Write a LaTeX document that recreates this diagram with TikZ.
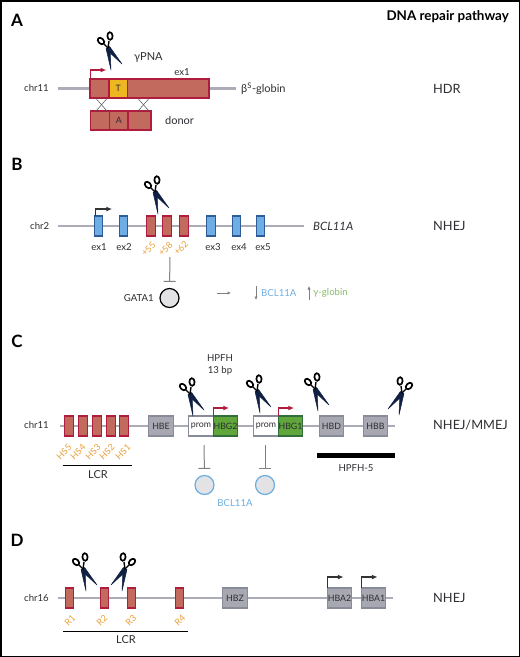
\documentclass[tikz,border=0pt]{standalone}
\usepackage{fontspec}
\setmainfont{Lato}
\usetikzlibrary{positioning, arrows.meta}
\definecolor{chrom}{RGB}{172, 172, 184}
\definecolor{crim}{RGB}{176, 28, 62}
\definecolor{brick}{RGB}{194, 106, 94}
\definecolor{gold}{RGB}{238, 182, 32}
\definecolor{exon}{RGB}{110, 174, 228}
\definecolor{exonline}{RGB}{45, 92, 150}
\definecolor{hbgrey}{RGB}{168, 168, 178}
\definecolor{hbline}{RGB}{136, 140, 152}
\definecolor{hbgreen}{RGB}{96, 166, 58}
\definecolor{hbgreenline}{RGB}{50, 110, 60}
\definecolor{site}{RGB}{232, 160, 60}
\definecolor{tf}{RGB}{227, 227, 230}
\definecolor{tfblue}{RGB}{106, 174, 224}
\definecolor{txtgreen}{RGB}{130, 190, 100}
\definecolor{txt}{RGB}{45, 45, 50}
\definecolor{navy}{RGB}{16, 32, 66}

\begin{document}
\begin{tikzpicture}[
    x=1pt, y=-1pt,
    lbl/.style={text=txt, font=\fontsize{9.6}{11}\selectfont, inner sep=0pt},
    mid_lbl/.style={text=txt, font=\fontsize{11}{13}\selectfont, inner sep=0pt},
    big_lbl/.style={text=txt, font=\fontsize{12.8}{14}\selectfont, inner sep=0pt},
    panel/.style={text=black, font=\fontsize{17}{18}\selectfont\bfseries, inner sep=0pt},
    tilt/.style={text=site, font=\fontsize{9}{10}\selectfont, inner sep=0pt, rotate=45},
    chrom_line/.style={chrom, line width=2.6pt},
    box/.style={
        draw, 
        line width=1.2pt,
        inner sep=0pt,
        outer sep=0pt,
        text=txt,
        font=\fontsize{8.8}{10}\selectfont,
        node distance=0pt
    },
    red_box/.style={box, draw=crim, fill=brick},
    exon_box/.style={box, draw=exonline, fill=exon, minimum width=8.5pt, minimum height=20pt},
    hs_box/.style={red_box, minimum width=8.5pt, minimum height=20pt},
    gene_box/.style={box, draw=hbline, fill=hbgrey, minimum width=24.5pt, minimum height=20pt},
    prom_box/.style={box, draw=hbline, fill=white, minimum width=24.5pt, minimum height=20pt},
    hbg_box/.style={box, draw=hbgreenline, fill=hbgreen, minimum width=24.5pt, minimum height=20pt},
    tf_dot/.style={circle, fill=tf, minimum size=19pt, inner sep=0pt, draw=black, line width=1.2pt},
    tfb_dot/.style={tf_dot, draw=tfblue},
    inhibit/.style={-{Bar[width=12pt,length=1pt]}, draw=gray, line width=1pt, shorten >=6pt},
    tss_red/.style={-{Latex[length=6pt,width=5pt]}, crim, line width=1.3pt},
    tss_black/.style={-{Latex[length=6pt,width=5pt]}, black!80, line width=1.3pt},
    small_arrow/.style={-{Latex[length=3.5pt,width=3.5pt]}, gray, line width=0.8pt},
    scissors/.pic={
        \filldraw[navy, line width=0.5pt, line join=round] (-1.6,1.5) -- (14,16) -- (1.6,-1.5) -- cycle;
        \filldraw[navy, line width=0.5pt, line join=round] (-2,0.3) -- (3,22) -- (2,-0.3) -- cycle;
        \draw[black, line width=1.4pt] (0,0) -- (-4,-4);
        \draw[black, line width=1.4pt] (0,0) -- (1,-7);
        \draw[black, line width=1.7pt, rotate around={45:(-7,-7)}] (-7,-7) ellipse (2.6 and 3.8);
        \draw[black, line width=1.7pt, rotate around={5:(2,-12)}] (2,-12) ellipse (2.6 and 3.8);
    }
]

% frame
\draw[black, line width=1.5pt] (0.75,0.75) rectangle (519.25,656.25);
\node[panel, text=black, font=\fontsize{13.4}{15}\selectfont\bfseries, anchor=east] (pathway) at (509,17) {DNA repair pathway};

% panel A
\node[panel] (labA) at (17,20) {A};
\node[lbl, anchor=west] (chrA) at (24,88) {chr11};
\coordinate (a_l) at (58,88.5);
\coordinate (a_r) at (236,88.5);
\draw[chrom_line] (a_l) -- (a_r);
\node[red_box, minimum width=119pt, minimum height=19pt, anchor=north west] (ex1) at (90,79) {};
\node[box, draw=crim, fill=gold, minimum width=18.5pt, minimum height=19pt, anchor=north west] (t) at (109,79) {T};
\node[red_box, minimum width=19pt, minimum height=19pt, anchor=north west] (d0) at (90.5,111) {};
\node[red_box, minimum width=18.5pt, minimum height=19pt, right=of d0] (d1) {A};
\node[red_box, minimum width=23pt, minimum height=19pt, right=of d1] (d2) {};
\draw[black!70, line width=0.5pt] (96,98.5) -- (107,111);
\draw[black!70, line width=0.5pt] (107,98.5) -- (96,111);
\draw[black!70, line width=0.5pt] (138,98.5) -- (149,111);
\draw[black!70, line width=0.5pt] (149,98.5) -- (138,111);
\draw[tss_red] (ex1.north west) ++(0.5,0) |- ++(16,-9);
\pic at (108,48) {scissors};
\node[mid_lbl, anchor=west] (pna) at (134,57) {γPNA};
\node[lbl] (ex1lbl) at (182,72) {ex1};
\node[mid_lbl, anchor=west] (glob) at (241,88.5) {β\textsuperscript{S}-globin};
\node[mid_lbl, anchor=west] (donor) at (165,120.5) {donor};
\node[big_lbl, anchor=west] (hdr) at (433,88.5) {HDR};

% panel B
\node[panel] (labB) at (17,164) {B};
\node[lbl, anchor=west] (chrB) at (30,226) {chr2};
\coordinate (b_l) at (58,226);
\coordinate (b_r) at (304,226);
\draw[chrom_line] (b_l) -- (b_r);
\node[exon_box] (bex1) at (98.5,226) {};
\node[exon_box] (bex2) at (123.5,226) {};
\node[hs_box] (p55) at (151,226) {};
\node[hs_box] (p58) at (167,226) {};
\node[hs_box] (p62) at (184,226) {};
\node[exon_box] (bex3) at (211,226) {};
\node[exon_box] (bex4) at (236.5,226) {};
\node[exon_box] (bex5) at (260.5,226) {};
\draw[tss_black] (bex1.north west) ++(1,0) |- ++(17,-7);
\pic at (155,192) {scissors};
\foreach \name/\x/\txt in {lex1/99/ex1, lex2/124/ex2, lex3/213/ex3, lex4/239/ex4, lex5/263/ex5}
    \node[lbl] (\name) at (\x,247) {\txt};
\node[tilt] (l55) at (148.5,249) {+55};
\node[tilt] (l58) at (165.5,249) {+58};
\node[tilt] (l62) at (181,248) {+62};
\node[tf_dot] (gata) at (169.5,298) {};
\node[lbl, anchor=east] (gatalbl) at (154,298) {GATA1};
\coordinate (gata_in) at (170,257);
\draw[inhibit] (gata_in) -- (gata.north);
\coordinate (eff_a) at (217,293);
\coordinate (eff_b) at (231,293);
\draw[small_arrow] (eff_a) -- (eff_b);
\coordinate (dn_a) at (256,286);
\coordinate (dn_b) at (256,300);
\draw[small_arrow] (dn_a) -- (dn_b);
\node[lbl, text=exon, anchor=west] (bcl) at (261,293) {BCL11A};
\coordinate (up_a) at (309,300);
\coordinate (up_b) at (309,286);
\draw[small_arrow] (up_a) -- (up_b);
\node[lbl, text=txtgreen, anchor=west] (gam) at (313,293) {γ-globin};
\node[mid_lbl, font=\fontsize{11.5}{13}\selectfont\itshape, anchor=west] (bclgene) at (313,226) {BCL11A};
\node[big_lbl, anchor=west] (nhejb) at (433,226) {NHEJ};

% panel C
\node[panel] (labC) at (17,341) {C};
\node[lbl, anchor=west] (chrC) at (24,425) {chr11};
\coordinate (c_l) at (60,426);
\coordinate (c_r) at (395,426);
\draw[chrom_line] (c_l) -- (c_r);
\foreach \name/\x/\txt/\lx in {hs5/69/HS5/64, hs4/83/HS4/78, hs3/97/HS3/93, hs2/111/HS2/107, hs1/124/HS1/123} {
    \node[hs_box] (\name) at (\x,426) {};
    \node[tilt] (\name lbl) at (\lx,452) {\txt};
}
\coordinate (lcr_a) at (62.5,465.5);
\coordinate (lcr_b) at (132,465.5);
\draw[black, line width=1pt] (lcr_a) -- (lcr_b);
\node[mid_lbl] (lcrc) at (98,475) {LCR};
\node[gene_box] (hbe) at (161,426) {HBE};
\node[prom_box] (prom2) at (201,426) {prom};
\node[hbg_box, right=of prom2] (hbg2) {HBG2};
\node[prom_box] (prom1) at (266,426) {prom};
\node[hbg_box, right=of prom1] (hbg1) {HBG1};
\node[gene_box] (hbd) at (331.5,426) {HBD};
\node[gene_box] (hbb) at (375.5,426) {HBB};
\draw[tss_red] (hbg2.north west) |- ++(16,-8);
\draw[tss_red] (hbg1.north west) |- ++(16,-8);
\pic at (190,394) {scissors};
\pic at (257,391) {scissors};
\pic at (315,389) {scissors};
\pic[xscale=-1] at (402,393) {scissors};
\node[lbl, align=center] (hpfh13) at (220,365) {HPFH\\[1pt]13 bp};
\node[tfb_dot] (tf2) at (204.5,485) {};
\node[tfb_dot] (tf1) at (265,485) {};
\coordinate (tf2_in) at (204,445);
\coordinate (tf1_in) at (265,445);
\draw[inhibit] (tf2_in) -- (tf2.north);
\draw[inhibit] (tf1_in) -- (tf1.north);
\node[lbl, text=tfblue] (bclc) at (235,503) {BCL11A};
\coordinate (h5_a) at (317,455);
\coordinate (h5_b) at (395,455);
\draw[black, line width=5pt] (h5_a) -- (h5_b);
\node[lbl] (h5lbl) at (356,468) {HPFH-5};
\node[big_lbl, anchor=east] (mmej) at (508,425.5) {NHEJ/MMEJ};

% panel D
\node[panel] (labD) at (17,540) {D};
\node[lbl, anchor=west] (chrD) at (24,598) {chr16};
\coordinate (d_l) at (58,598);
\coordinate (d_r) at (392.5,598);
\draw[chrom_line] (d_l) -- (d_r);
\foreach \name/\x/\txt/\lx in {r1/69.5/R1/70, r2/104.5/R2/102, r3/131.5/R3/131, r4/179.5/R4/180} {
    \node[hs_box] (\name) at (\x,598) {};
    \node[tilt] (\name lbl) at (\lx,620) {\txt};
}
\coordinate (lcrd_a) at (63,631);
\coordinate (lcrd_b) at (188,631);
\draw[black, line width=1pt] (lcrd_a) -- (lcrd_b);
\node[mid_lbl] (lcrd) at (126,640) {LCR};
\node[gene_box] (hbz) at (235,598) {HBZ};
\node[gene_box] (hba2) at (339.5,598) {HBA2};
\node[gene_box] (hba1) at (373.5,598) {HBA1};
\draw[tss_black] (hba2.north west) ++(0.5,0) |- ++(16,-11);
\draw[tss_black] (hba1.north west) ++(0.5,0) |- ++(16,-11);
\pic at (83,569) {scissors};
\pic[xscale=-1] at (125,569) {scissors};
\node[big_lbl, anchor=west] (nhejd) at (433,598) {NHEJ};

\end{tikzpicture}
\end{document}
